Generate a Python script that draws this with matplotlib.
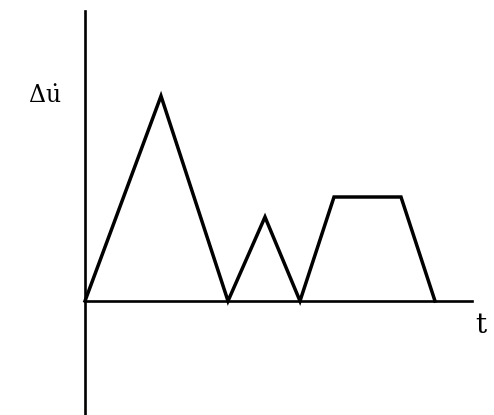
import matplotlib.pyplot as plt

plt.rcParams['mathtext.fontset'] = 'dejavuserif'

# Time breakpoints and velocity increment values of the pulse train
t = [0, 76, 143, 180, 215, 249, 316, 350]
du = [0, 205, 0, 84, 0, 104, 104, 0]

fig = plt.figure(figsize=(4.94, 4.15), dpi=100)
ax = fig.add_axes([85 / 494, 1 / 415, 387 / 494, 403 / 415])

ax.plot(t, du, color='k', linewidth=2.5, solid_joinstyle='miter', clip_on=False)

ax.set_xlim(0, 387)
ax.set_ylim(-113, 290)

# Axes through the origin
for side in ['top', 'right']:
    ax.spines[side].set_visible(False)
ax.spines['left'].set_position(('data', 0))
ax.spines['bottom'].set_position(('data', 0))
ax.spines['left'].set_linewidth(1.9)
ax.spines['bottom'].set_linewidth(1.9)
ax.set_xticks([])
ax.set_yticks([])

ax.text(-24, 205, r'$\Delta\dot{\mathrm{u}}$', fontsize=17, ha='right', va='center', clip_on=False)
ax.text(396, -24, 't', fontsize=20, ha='center', va='center', family='DejaVu Serif', clip_on=False)

fig.savefig('out.png', dpi=100)
